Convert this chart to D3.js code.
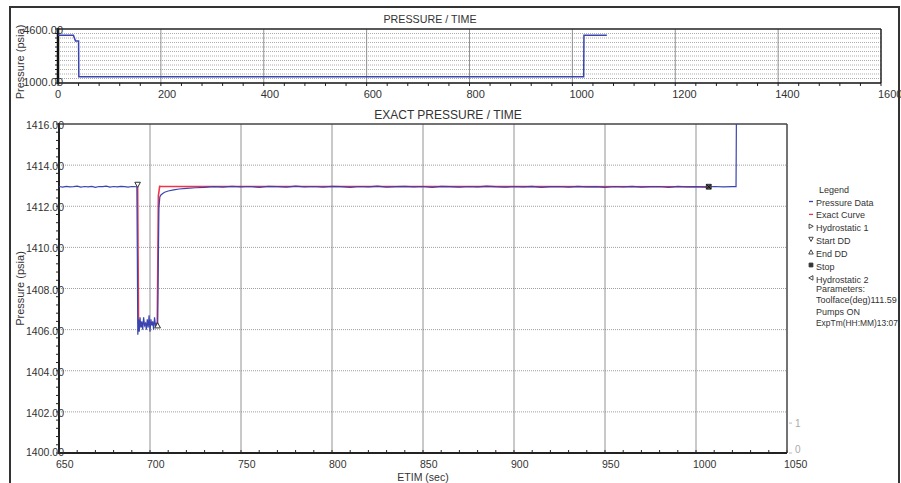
<!DOCTYPE html>
<html>
<head>
<meta charset="utf-8">
<script src="https://cdn.jsdelivr.net/npm/d3@7"></script>
<style>
body { margin: 0; background: #ffffff; }
svg { display: block; font-family: "Liberation Sans", Arial, sans-serif; }
</style>
</head>
<body>
<svg id="chart"></svg>
<script>
//Overview chart data (whole run)
var overviewTime     = [0, 30, 34, 38, 40, 40.5, 1022, 1022.5, 1067];
var overviewPressure = [4180, 4180, 3800, 3800, 3800, 1413, 1413, 4180, 4180];
var overviewXTicks   = [0, 200, 400, 600, 800, 1000, 1200, 1400, 1600];
var overviewYTicks   = [1000, 4600];

//Exact pressure chart data: measured pressure
var pressureTime = [650, 652, 654, 656, 658, 660, 662, 664, 666, 668, 670, 672, 674, 676, 678, 680,
    682, 684, 686, 688, 690, 692.8,
    693.3, 693.7, 694.1, 694.5, 695, 695.5, 696, 696.5, 697, 697.5, 698, 698.5, 699, 699.5,
    700, 700.5, 701, 701.5, 702, 702.5, 703, 703.6, 704.2,
    704.9, 705.4, 706, 707, 708, 710, 713, 716, 720, 725, 730,
    735, 740, 745, 750, 755, 760, 765, 770, 775, 780, 785, 790, 795, 800, 805, 810, 815, 820,
    825, 830, 835, 840, 845, 850, 855, 860, 865, 870, 875, 880, 885, 890, 895, 900, 905, 910,
    915, 920, 925, 930, 935, 940, 945, 950, 955, 960, 965, 970, 975, 980, 985, 990, 995, 1000,
    1005, 1010, 1015, 1020, 1022, 1022.3];
var pressureValue = [1412.96, 1412.93, 1412.97, 1412.94, 1412.95, 1412.98, 1412.93, 1412.96,
    1412.94, 1412.97, 1412.92, 1412.96, 1412.95, 1412.98, 1412.93, 1412.96, 1412.94, 1412.97,
    1412.95, 1412.93, 1412.96, 1412.95,
    1405.75, 1406.5, 1405.9, 1406.6, 1406.1, 1406.4, 1406.0, 1406.6, 1406.2, 1406.3, 1406.0,
    1406.5, 1406.1, 1406.7, 1405.9, 1406.5, 1406.2, 1406.4, 1406.0, 1406.6, 1406.2, 1406.3, 1406.3,
    1411.9, 1412.45, 1412.55, 1412.62, 1412.68, 1412.74, 1412.8, 1412.84, 1412.87, 1412.9, 1412.92,
    1412.95, 1412.93, 1412.97, 1412.94, 1412.96, 1412.92, 1412.97, 1412.95, 1412.93, 1412.98,
    1412.94, 1412.96, 1412.93, 1412.97, 1412.95, 1412.92, 1412.96, 1412.94, 1412.98, 1412.93,
    1412.95, 1412.97, 1412.94, 1412.96, 1412.92, 1412.97, 1412.95, 1412.93, 1412.96, 1412.94,
    1412.98, 1412.95, 1412.93, 1412.96, 1412.94, 1412.97, 1412.92, 1412.95, 1412.96, 1412.93,
    1412.97, 1412.94, 1412.95, 1412.92, 1412.96, 1412.94, 1412.97, 1412.93, 1412.95, 1412.96,
    1412.92, 1412.97, 1412.94, 1412.95, 1412.93, 1412.96, 1412.94, 1412.95, 1412.95, 1418];

//Exact curve (model)
var exactTime  = [693.2, 693.7, 704.0, 704.6, 705.3, 706.5, 1007];
var exactValue = [1413.0, 1406.3, 1406.3, 1412.5, 1412.97, 1412.96, 1412.95];

//Event markers
var markerNames = ["Start DD", "End DD", "Stop"];
var markerTime  = [693.2, 704.2, 1007];
var markerValue = [1413.05, 1406.2, 1412.95];

var mainXTicks  = [650, 700, 750, 800, 850, 900, 950, 1000, 1050];
var mainYTicks  = [1400, 1402, 1404, 1406, 1408, 1410, 1412, 1414, 1416];
var rightTicks  = [0, 1];

var legendLabels   = ["Pressure Data", "Exact Curve", "Hydrostatic 1", "Start DD", "End DD", "Stop", "Hydrostatic 2"];
var parameterLines = ["Parameters:", "Toolface(deg)111.59", "Pumps ON", "ExpTm(HH:MM)13:07"];

//Colours
var blue = "#3a44b0";
var red = "#f0354a";

var svg = d3.select("#chart")
            .attr("width", 901)
            .attr("height", 483);

//Outer frame
svg.append("path")
    .attr("d", "M10,490 L10,7 L899,7 L899,490")
    .attr("fill", "none")
    .attr("stroke", "#333")
    .attr("stroke-width", 2);

//Zip helper
function zip(xs, ys) {
    return xs.map(function(x, i){ return { x: x, y: ys[i] }; });
}

//----------------- Overview chart -----------------
var ov = { left: 58, right: 881, top: 29, bottom: 83 };

var ovX = d3.scaleLinear().domain([0, 1600]).range([ov.left, ov.right]);
var ovY = d3.scaleLinear().domain([1000, 4600]).range([ov.bottom, ov.top]);

//Grid
svg.append("g")
    .selectAll("line")
    .data(d3.range(1300, 4600, 300))
    .join("line")
    .attr("x1", ov.left).attr("x2", ov.right)
    .attr("y1", function(d){ return ovY(d); })
    .attr("y2", function(d){ return ovY(d); })
    .attr("stroke", "#888")
    .attr("stroke-width", 0.7)
    .attr("stroke-dasharray", "1,1");

svg.append("g")
    .selectAll("line")
    .data(overviewXTicks.slice(1, -1))
    .join("line")
    .attr("x1", function(d){ return ovX(d); })
    .attr("x2", function(d){ return ovX(d); })
    .attr("y1", ov.top).attr("y2", ov.bottom)
    .attr("stroke", "#777")
    .attr("stroke-width", 0.8);

//Minor ticks
svg.append("g")
    .selectAll("line")
    .data(d3.range(0, 1601, 40))
    .join("line")
    .attr("x1", function(d){ return ovX(d); })
    .attr("x2", function(d){ return ovX(d); })
    .attr("y1", ov.bottom).attr("y2", ov.bottom + 3)
    .attr("stroke", "#222");

svg.append("g")
    .selectAll("line")
    .data(d3.range(1000, 4601, 300))
    .join("line")
    .attr("x1", ov.left - 3).attr("x2", ov.left)
    .attr("y1", function(d){ return ovY(d); })
    .attr("y2", function(d){ return ovY(d); })
    .attr("stroke", "#222");

//Frame lines
svg.append("line").attr("x1", ov.left).attr("x2", ov.right).attr("y1", ov.top).attr("y2", ov.top)
    .attr("stroke", "#222").attr("stroke-width", 1.5);
svg.append("line").attr("x1", ov.right).attr("x2", ov.right).attr("y1", ov.top).attr("y2", ov.bottom)
    .attr("stroke", "#222").attr("stroke-width", 1.5);
svg.append("line").attr("x1", ov.left).attr("x2", ov.right).attr("y1", ov.bottom).attr("y2", ov.bottom)
    .attr("stroke", "#111").attr("stroke-width", 1.5);
svg.append("line").attr("x1", ov.left).attr("x2", ov.left).attr("y1", ov.top - 1).attr("y2", ov.bottom + 1)
    .attr("stroke", "#111").attr("stroke-width", 2.5);

//Overview line
svg.append("path")
    .datum(zip(overviewTime, overviewPressure))
    .attr("fill", "none")
    .attr("stroke", blue)
    .attr("stroke-width", 1.5)
    .attr("d", d3.line().x(function(d){ return ovX(d.x); }).y(function(d){ return ovY(d.y); }));

//Tick labels
svg.append("g")
    .selectAll("text")
    .data(overviewXTicks)
    .join("text")
    .attr("x", function(d){ return ovX(d) - 3; })
    .attr("y", ov.bottom + 15)
    .style("font-size", "11px")
    .style("fill", "#333")
    .text(function(d){ return d; });

svg.append("g")
    .selectAll("text")
    .data(overviewYTicks)
    .join("text")
    .attr("x", ov.left + 5)
    .attr("y", function(d){ return ovY(d) + (d === 1000 ? 3 : 5); })
    .attr("text-anchor", "end")
    .style("font-size", "11px")
    .style("fill", "#333")
    .text(function(d){ return d3.format(".2f")(d); });

svg.append("text")
    .attr("x", 430)
    .attr("y", 23)
    .attr("text-anchor", "middle")
    .style("font-size", "10.7px")
    .style("fill", "#333")
    .text("PRESSURE / TIME");

svg.append("text")
    .attr("transform", "rotate(-90)")
    .attr("x", -62)
    .attr("y", 24)
    .attr("text-anchor", "middle")
    .style("font-size", "11px")
    .style("fill", "#333")
    .text("Pressure (psia)");

//----------------- Exact pressure chart -----------------
var mp = { left: 59, right: 787, top: 124, bottom: 453 };

var xScale = d3.scaleLinear().domain([650, 1050]).range([mp.left, mp.right]);
var yScale = d3.scaleLinear().domain([1400, 1416]).range([mp.bottom, mp.top]);
var rScale = d3.scaleLinear().domain([0, 11]).range([mp.bottom, mp.top]);

svg.append("clipPath")
    .attr("id", "plotClip")
    .append("rect")
    .attr("x", mp.left).attr("y", mp.top)
    .attr("width", mp.right - mp.left).attr("height", mp.bottom - mp.top);

//Horizontal dotted grid
svg.append("g")
    .selectAll("line")
    .data(mainYTicks.slice(1, -1))
    .join("line")
    .attr("x1", mp.left).attr("x2", mp.right)
    .attr("y1", function(d){ return yScale(d); })
    .attr("y2", function(d){ return yScale(d); })
    .attr("stroke", "#888")
    .attr("stroke-width", 0.8)
    .attr("stroke-dasharray", "1,1");

//Vertical grid
svg.append("g")
    .selectAll("line")
    .data(mainXTicks.slice(1, -1))
    .join("line")
    .attr("x1", function(d){ return xScale(d); })
    .attr("x2", function(d){ return xScale(d); })
    .attr("y1", mp.top).attr("y2", mp.bottom)
    .attr("stroke", "#777")
    .attr("stroke-width", 0.8);

//Minor ticks
svg.append("g")
    .selectAll("line")
    .data(d3.range(650, 1051, 10))
    .join("line")
    .attr("x1", function(d){ return xScale(d); })
    .attr("x2", function(d){ return xScale(d); })
    .attr("y1", mp.bottom - 3).attr("y2", mp.bottom)
    .attr("stroke", "#222");

svg.append("g")
    .selectAll("line")
    .data(d3.range(1400, 1416.01, 0.4))
    .join("line")
    .attr("x1", mp.left - 3).attr("x2", mp.left)
    .attr("y1", function(d){ return yScale(d); })
    .attr("y2", function(d){ return yScale(d); })
    .attr("stroke", "#222");

//Faint secondary axis on the right
svg.append("g")
    .selectAll("line")
    .data(rightTicks)
    .join("line")
    .attr("x1", mp.right + 2).attr("x2", mp.right + 5)
    .attr("y1", function(d){ return rScale(d); })
    .attr("y2", function(d){ return rScale(d); })
    .attr("stroke", "#bbb");

svg.append("g")
    .selectAll("text")
    .data(rightTicks)
    .join("text")
    .attr("x", mp.right + 8)
    .attr("y", function(d){ return rScale(d) + (d === 0 ? 0 : 4); })
    .style("font-size", "10px")
    .style("fill", "#aaa")
    .text(function(d){ return d; });

//Frame lines
svg.append("line").attr("x1", mp.left).attr("x2", mp.right).attr("y1", mp.top).attr("y2", mp.top)
    .attr("stroke", "#444").attr("stroke-width", 1.5);
svg.append("line").attr("x1", mp.right).attr("x2", mp.right).attr("y1", mp.top).attr("y2", mp.bottom)
    .attr("stroke", "#444").attr("stroke-width", 1.5);
svg.append("line").attr("x1", mp.left).attr("x2", mp.right).attr("y1", mp.bottom).attr("y2", mp.bottom)
    .attr("stroke", "#222").attr("stroke-width", 2);
svg.append("line").attr("x1", mp.left).attr("x2", mp.left).attr("y1", mp.top - 1).attr("y2", mp.bottom + 1)
    .attr("stroke", "#222").attr("stroke-width", 2);

//Curves
var lineGen = d3.line()
    .x(function(d){ return xScale(d.x); })
    .y(function(d){ return yScale(d.y); });

var curves = svg.append("g").attr("clip-path", "url(#plotClip)");

curves.append("path")
    .datum(zip(exactTime, exactValue))
    .attr("fill", "none")
    .attr("stroke", red)
    .attr("stroke-width", 1.6)
    .attr("d", lineGen);

curves.append("path")
    .datum(zip(pressureTime, pressureValue))
    .attr("fill", "none")
    .attr("stroke", blue)
    .attr("stroke-width", 1.2)
    .attr("d", lineGen);

//Marker symbols
function markerPath(name, size) {
    var s = size;
    if (name === "Hydrostatic 1") return "M" + (-s * 0.6) + "," + (-s * 0.7) + " L" + (s * 0.7) + ",0 L" + (-s * 0.6) + "," + (s * 0.7) + " Z";
    if (name === "Hydrostatic 2") return "M" + (s * 0.6) + "," + (-s * 0.7) + " L" + (-s * 0.7) + ",0 L" + (s * 0.6) + "," + (s * 0.7) + " Z";
    if (name === "Start DD") return "M" + (-s * 0.7) + "," + (-s * 0.6) + " L" + (s * 0.7) + "," + (-s * 0.6) + " L0," + (s * 0.7) + " Z";
    if (name === "End DD") return "M" + (-s * 0.7) + "," + (s * 0.6) + " L" + (s * 0.7) + "," + (s * 0.6) + " L0," + (-s * 0.7) + " Z";
    return "M" + (-s * 0.6) + "," + (-s * 0.6) + " h" + (s * 1.2) + " v" + (s * 1.2) + " h" + (-s * 1.2) + " Z";
}

var markers = svg.append("g")
    .selectAll("g")
    .data(markerNames.map(function(n, i){ return { name: n, x: markerTime[i], y: markerValue[i] }; }))
    .join("g")
    .attr("transform", function(d){ return "translate(" + xScale(d.x) + "," + yScale(d.y) + ")"; });

markers.append("path")
    .attr("d", function(d){ return markerPath(d.name, 4); })
    .attr("fill", function(d){ return d.name === "Stop" ? "#555" : "#fff"; })
    .attr("stroke", "#333")
    .attr("stroke-width", 1);

markers.filter(function(d){ return d.name === "Stop"; })
    .append("path")
    .attr("d", "M-2.4,-2.4 L2.4,2.4 M2.4,-2.4 L-2.4,2.4")
    .attr("stroke", "#111")
    .attr("stroke-width", 1);

//Axis labels
svg.append("g")
    .selectAll("text")
    .data(mainXTicks)
    .join("text")
    .attr("x", function(d){ return xScale(d) - 3; })
    .attr("y", mp.bottom + 15)
    .style("font-size", "10.5px")
    .style("fill", "#333")
    .text(function(d){ return d; });

svg.append("g")
    .selectAll("text")
    .data(mainYTicks)
    .join("text")
    .attr("x", mp.left + 5)
    .attr("y", function(d){ return yScale(d) + (d === 1400 ? 3 : 5); })
    .attr("text-anchor", "end")
    .style("font-size", "10.5px")
    .style("fill", "#333")
    .text(function(d){ return d3.format(".2f")(d); });

svg.append("text")
    .attr("x", 448)
    .attr("y", 119)
    .attr("text-anchor", "middle")
    .style("font-size", "12px")
    .style("fill", "#333")
    .text("EXACT PRESSURE / TIME");

svg.append("text")
    .attr("x", (mp.left + mp.right) / 2)
    .attr("y", 481)
    .attr("text-anchor", "middle")
    .style("font-size", "10.5px")
    .style("fill", "#333")
    .text("ETIM (sec)");

svg.append("text")
    .attr("transform", "rotate(-90)")
    .attr("x", -(mp.top + mp.bottom) / 2)
    .attr("y", 24)
    .attr("text-anchor", "middle")
    .style("font-size", "11px")
    .style("fill", "#333")
    .text("Pressure (psia)");

//----------------- Legend -----------------
var legend = svg.append("g");

legend.append("text")
    .attr("x", 819)
    .attr("y", 192.5)
    .style("font-size", "9px")
    .style("fill", "#333")
    .text("Legend");

var items = legend.selectAll("g.item")
    .data(legendLabels)
    .join("g")
    .attr("class", "item")
    .attr("transform", function(d, i){ return "translate(816," + (205.5 + i * 12.9) + ")"; });

items.append("text")
    .style("font-size", "9px")
    .style("fill", "#333")
    .text(function(d){ return d; });

items.each(function(d, i){
    var g = d3.select(this);
    if (i < 2) {
        g.append("line")
            .attr("x1", -7).attr("x2", -3)
            .attr("y1", -4).attr("y2", -4)
            .attr("stroke", i === 0 ? blue : red)
            .attr("stroke-width", 1.3);
    } else {
        g.append("path")
            .attr("transform", "translate(-5,-5)")
            .attr("d", markerPath(d, 3.2))
            .attr("fill", d === "Stop" ? "#333" : "#fff")
            .attr("stroke", "#333")
            .attr("stroke-width", 0.9);
    }
});

//Parameter lines, shrunk if they would run past the frame
legend.selectAll("text.param")
    .data(parameterLines)
    .join("text")
    .attr("class", "param")
    .attr("x", 816)
    .attr("y", function(d, i){ return 292 + i * 11.4; })
    .style("font-size", "9px")
    .style("fill", "#333")
    .text(function(d){ return d; })
    .each(function(){
        var w = this.getComputedTextLength();
        if (w > 82) d3.select(this).style("font-size", (9 * 82 / w).toFixed(2) + "px");
    });
</script>
</body>
</html>
